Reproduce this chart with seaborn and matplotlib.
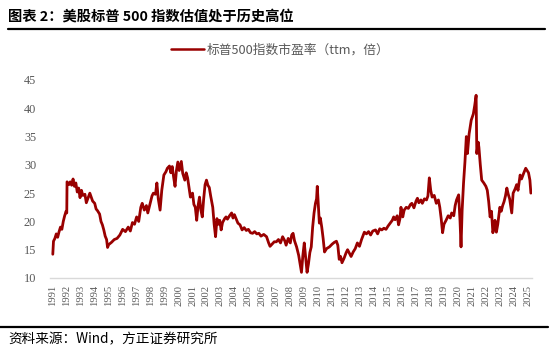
import pandas as pd
import matplotlib
matplotlib.use("Agg")
import matplotlib.pyplot as plt
import seaborn as sns
from matplotlib.lines import Line2D

# 标普500指数市盈率 (ttm) -- 读图估计
dates = [
    1991.0, 1991.05, 1991.15, 1991.25, 1991.35, 1991.45, 1991.55, 1991.65, 1991.75, 1991.85, 1991.95,
    1992.0, 1992.02, 1992.15, 1992.25, 1992.35, 1992.45, 1992.55, 1992.65, 1992.75, 1992.85, 1992.95,
    1993.05, 1993.15, 1993.3, 1993.4, 1993.5, 1993.65, 1993.75, 1993.85,
    1994.0, 1994.1, 1994.2, 1994.35, 1994.45, 1994.55, 1994.65, 1994.75, 1994.85, 1994.92,
    1995.0, 1995.2, 1995.4, 1995.6, 1995.8,
    1996.0, 1996.2, 1996.4, 1996.55, 1996.7, 1996.85,
    1997.0, 1997.15, 1997.3, 1997.4, 1997.55, 1997.7, 1997.8, 1997.95,
    1998.1, 1998.2, 1998.35, 1998.45, 1998.55, 1998.68, 1998.8, 1998.95,
    1999.1, 1999.2, 1999.35, 1999.45, 1999.55, 1999.65, 1999.75, 1999.85, 1999.95,
    2000.05, 2000.2, 2000.3, 2000.45, 2000.55, 2000.65, 2000.75, 2000.85,
    2001.0, 2001.1, 2001.2, 2001.3, 2001.4, 2001.5, 2001.6, 2001.7, 2001.8, 2001.9,
    2002.0, 2002.1, 2002.2, 2002.3, 2002.45, 2002.55, 2002.65, 2002.75, 2002.85, 2002.95,
    2003.05, 2003.15, 2003.3, 2003.4, 2003.5, 2003.65, 2003.8, 2003.9,
    2004.0, 2004.15, 2004.25, 2004.4, 2004.55, 2004.7, 2004.85,
    2005.0, 2005.15, 2005.3, 2005.45, 2005.6, 2005.75, 2005.9,
    2006.1, 2006.3, 2006.45, 2006.55, 2006.7, 2006.85,
    2007.0, 2007.15, 2007.3, 2007.45, 2007.6, 2007.7, 2007.85,
    2008.0, 2008.1, 2008.2, 2008.3, 2008.45, 2008.6, 2008.7, 2008.8, 2008.9,
    2009.0, 2009.1, 2009.2, 2009.3, 2009.4, 2009.5, 2009.6, 2009.7, 2009.8, 2009.88, 2009.93,
    2010.0, 2010.08, 2010.15, 2010.25, 2010.35, 2010.45, 2010.6, 2010.8,
    2011.0, 2011.15, 2011.3, 2011.4, 2011.5, 2011.6, 2011.7, 2011.85,
    2012.0, 2012.1, 2012.25, 2012.35, 2012.5, 2012.65, 2012.8, 2012.95,
    2013.1, 2013.3, 2013.45, 2013.6, 2013.75, 2013.9,
    2014.1, 2014.25, 2014.4, 2014.55, 2014.7, 2014.85,
    2015.0, 2015.15, 2015.3, 2015.4, 2015.5, 2015.65, 2015.75, 2015.85, 2015.92,
    2016.05, 2016.15, 2016.3, 2016.45, 2016.6, 2016.7, 2016.85,
    2017.0, 2017.1, 2017.2, 2017.35, 2017.45, 2017.6, 2017.75, 2017.85, 2017.95,
    2018.05, 2018.15, 2018.3, 2018.45, 2018.6, 2018.7, 2018.8, 2018.9,
    2019.0, 2019.15, 2019.3, 2019.45, 2019.55, 2019.7, 2019.8, 2019.9,
    2020.05, 2020.15, 2020.22, 2020.3, 2020.4, 2020.5, 2020.6, 2020.68, 2020.8, 2020.95,
    2021.1, 2021.2, 2021.3, 2021.35, 2021.45, 2021.5, 2021.6, 2021.7, 2021.85,
    2022.0, 2022.1, 2022.2, 2022.3, 2022.4, 2022.5, 2022.6, 2022.65, 2022.75, 2022.85,
    2023.0, 2023.1, 2023.2, 2023.3, 2023.4, 2023.5, 2023.6, 2023.7, 2023.85, 2023.95,
    2024.1, 2024.2, 2024.3, 2024.45, 2024.55, 2024.7, 2024.85, 2024.95,
    2025.05, 2025.15, 2025.22,
]
pe_ttm = [
    14.2, 16.5, 17.0, 17.8, 17.2, 18.2, 19.0, 18.6, 20.0, 21.0, 21.8,
    21.5, 27.0, 26.5, 27.0, 26.4, 27.5, 26.2, 26.8, 25.2, 25.9, 24.2,
    25.5, 24.6, 24.8, 23.3, 24.0, 25.0, 24.3, 23.6,
    23.2, 22.2, 21.9, 21.3, 20.0, 19.4, 18.5, 17.4, 16.8, 15.4,
    15.9, 16.3, 16.8, 17.0, 17.6,
    18.6, 18.2, 19.0, 18.3, 19.8, 19.5,
    20.8, 20.0, 22.5, 23.2, 22.0, 22.8, 21.5, 23.0,
    24.5, 25.0, 24.8, 26.8, 24.0, 22.0, 25.5, 28.2,
    28.8, 29.4, 29.8, 28.6, 29.7, 27.8, 26.2, 29.0, 30.5,
    29.0, 30.6, 28.5, 27.3, 28.6, 27.7, 26.0, 24.3,
    25.0, 23.0, 22.5, 20.2, 22.8, 24.3, 22.0, 20.8, 24.0, 26.5,
    27.3, 26.4, 26.0, 24.5, 22.5, 19.5, 17.3, 20.5, 19.5, 20.2,
    18.5, 19.8, 20.5, 20.8, 20.4, 21.0, 21.5, 20.6,
    21.2, 20.3, 19.7, 19.4, 18.5, 18.9, 18.4,
    18.6, 18.0, 17.9, 18.2, 17.8, 17.9, 17.4,
    17.7, 17.3, 16.2, 15.6, 16.0, 16.4,
    16.4, 16.8, 16.2, 17.3, 16.6, 15.8, 17.0,
    16.2, 17.6, 17.9, 16.6, 15.5, 14.0, 12.5, 11.0, 14.0,
    16.2, 13.5, 11.0, 12.5, 14.5, 15.5, 19.0, 21.5, 23.2, 24.0, 26.2,
    23.0, 19.7, 20.6, 19.0, 17.0, 14.6, 15.2, 15.5,
    16.0, 16.3, 16.5, 15.8, 13.3, 13.8, 12.7, 13.5,
    14.5, 15.0, 14.3, 13.8, 14.6, 15.2, 16.2, 15.6,
    16.8, 18.1, 17.8, 18.2, 17.6, 18.3,
    18.5, 17.8, 18.7, 18.5, 18.8, 18.6,
    19.2, 19.7, 20.2, 20.8, 20.3, 21.0, 19.4, 20.5, 22.5,
    20.8, 22.0, 22.5, 22.3, 23.0, 23.2, 22.4,
    23.6, 24.1, 23.3, 23.8, 23.2, 24.0, 23.8, 24.5, 27.7,
    25.5, 24.3, 24.6, 23.2, 23.8, 22.5, 20.5, 18.0,
    19.5, 20.2, 21.0, 20.6, 21.5, 21.0, 22.8, 23.8,
    24.7, 20.0, 15.5, 22.0, 26.8, 30.5, 35.0, 32.0, 35.5, 37.9,
    39.0, 40.5, 42.3, 32.0, 34.0, 33.1, 30.0, 27.3, 26.8,
    26.2, 25.5, 23.5, 20.8, 21.8, 18.0, 19.2, 20.2, 18.1, 19.5,
    22.5, 21.8, 22.8, 23.5, 24.5, 25.9, 24.8, 24.0, 21.5, 25.0,
    25.8, 26.5, 25.5, 28.2, 27.5, 28.5, 29.4, 29.0,
    28.6, 27.3, 25.0,
]
tick_years = list(range(1991, 2026))
y_ticks = [10, 15, 20, 25, 30, 35, 40, 45]

series_name = "标普500指数市盈率（ttm，倍）"
title = "图表 2：美股标普 500 指数估值处于历史高位"
source = "资料来源：Wind，方正证券研究所"

df = pd.DataFrame({"date": dates, "pe": pe_ttm})

sns.set_style("white")
cjk = ["Noto Sans CJK SC", "DejaVu Sans"]
serif = ["Liberation Serif", "DejaVu Serif"]
plt.rcParams["font.family"] = cjk

line_color = "#990000"
grey = "#595959"

fig = plt.figure(figsize=(5.5, 3.5), dpi=100)
ax = fig.add_axes([50 / 550, 72 / 350, 482 / 550, 198 / 350])

sns.lineplot(data=df, x="date", y="pe", ax=ax, color=line_color, linewidth=2.0, legend=False)

ax.set_xlim(1990.8, 2025.3)
ax.set_ylim(10, 45)
ax.set_xticks(tick_years)
ax.set_xticklabels([str(y) for y in tick_years], rotation=90, fontsize=7.6,
                   color=grey, family=serif)
ax.set_yticks(y_ticks)
ax.set_yticklabels([str(v) for v in y_ticks], fontsize=8.8, color=grey, family=serif)
ax.set_xlabel("")
ax.set_ylabel("")

for s in ["top", "right", "left"]:
    ax.spines[s].set_visible(False)
ax.spines["bottom"].set_color("#d9d9d9")
ax.spines["bottom"].set_linewidth(1.0)
ax.tick_params(axis="x", length=3, width=0.8, color="#d9d9d9", pad=2)
ax.tick_params(axis="y", length=0, pad=10)

# legend
handle = Line2D([0], [0], color=line_color, linewidth=1.8)
fig.legend([handle], [series_name], loc="center", bbox_to_anchor=(0.51, 1 - 50 / 350),
           frameon=False, handlelength=2.6, handletextpad=0.2,
           prop={"family": cjk, "size": 9.2}, labelcolor=grey)

# title & source with rules
fig.text(8 / 550, 1 - 17 / 350, title, fontsize=10.3, fontweight="bold",
         ha="left", va="center", color="black")
fig.add_artist(Line2D([8 / 550, 545 / 550], [1 - 29 / 350, 1 - 29 / 350],
                      color="black", linewidth=1.6))
fig.add_artist(Line2D([0, 548 / 550], [1 - 327 / 350, 1 - 327 / 350],
                      color="black", linewidth=1.6))
fig.text(8 / 550, 1 - 339 / 350, source, fontsize=9.8, style="italic",
         ha="left", va="center", color="black")

fig.savefig("out.png", dpi=100)
